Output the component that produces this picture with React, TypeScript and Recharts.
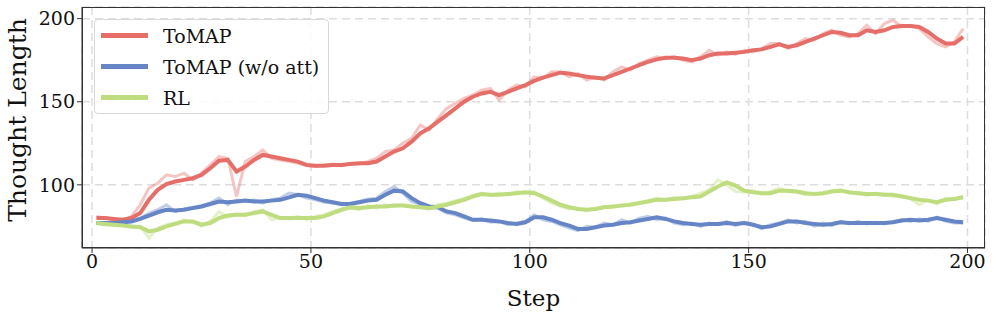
import React from "react";
import { LineChart, Line, XAxis, YAxis, CartesianGrid } from "recharts";

// steps 1, 3, 5 ... 199
const steps: number[] = Array.from({ length: 100 }, (_, i) => 2 * i + 1);

const tomapRaw: number[] = [
  81, 80, 79, 78.5, 81, 88, 98, 101, 106, 105, 107, 103, 107, 112, 117, 116, 93, 114, 117, 121,
  116, 115, 114, 113, 111.5, 111, 112, 112.5, 111.5, 113, 112.5, 114, 116, 120, 121, 125, 128, 136, 133, 140,
  146, 149, 152, 154, 157, 158, 151, 157, 160, 159, 165, 164, 168, 168, 165, 167, 163, 165, 163, 168,
  171, 169, 173, 175, 177, 176, 177, 175, 174, 177, 181, 178, 180, 178.5, 181, 180, 182, 185, 185, 182,
  185, 188, 187, 191, 193, 190, 189, 191, 196, 191, 197, 199, 195, 196, 194, 189, 185, 183, 186, 194,
];
const tomapSmooth: number[] = [
  80, 80, 79.5, 79, 80, 83, 91, 97, 100.5, 102, 103, 104, 106, 110, 114.5, 115, 108, 111, 115, 118,
  117, 116, 115, 114, 112, 111.5, 111.5, 112, 112, 112.5, 113, 113, 114, 117, 120, 122, 126, 131, 134, 138,
  142, 146, 150, 153, 155, 156, 154, 156, 158, 160, 162.5, 164.5, 166, 167.5, 167, 166, 165, 164.5, 164, 166,
  168, 170, 172, 174, 175.5, 176.5, 176.5, 176, 175, 176, 178, 179, 179, 179.5, 180, 181, 181.5, 183, 184.5, 183,
  184, 186, 188, 190, 192, 191.5, 190, 190, 193, 192, 193, 195, 195.5, 195.5, 195, 192, 188, 185, 185, 189,
];
const noAttRaw: number[] = [
  77, 76, 77.5, 77, 78.5, 80, 83, 85, 88, 84, 85.5, 86.5, 87.5, 89, 92, 88, 91, 90, 91, 89,
  91, 92, 95, 94, 92, 91, 89.5, 89, 88, 89, 90, 91.5, 92, 96, 99, 95, 90, 88, 86, 86,
  83, 82, 80, 78.5, 79.5, 77.5, 78, 76, 77, 78, 82, 79, 78, 76, 74, 72.5, 75, 74.5, 77, 76,
  79, 77, 80, 81, 79, 80, 77, 76, 77, 75, 77, 76, 78, 75.5, 77.5, 76, 73.5, 76, 77, 79,
  77, 78, 75, 77, 75.5, 78, 76.5, 78, 76.5, 77.5, 76.5, 78, 79, 78, 79.5, 78, 80.5, 78, 77, 77,
];
const noAttSmooth: number[] = [
  77, 77, 77, 77.5, 78, 79.5, 81.5, 83.5, 85, 84.5, 85, 86, 87, 88.5, 90, 89.5, 90, 90.5, 90, 90,
  90.5, 91, 92.5, 94, 93.5, 92, 90.5, 89.5, 88.5, 88.5, 89.5, 90.5, 91, 94, 96.5, 96, 92, 89, 87, 86.5,
  84, 83, 81, 79, 79, 78.5, 78, 77, 76.5, 77.5, 80.5, 80.5, 79, 77, 75.5, 73.5, 73.5, 74.5, 75.5, 76,
  77, 77.5, 78.5, 79.5, 80.5, 79.5, 78, 77, 76.5, 76, 76.5, 76.5, 77, 76.5, 77, 76, 74.5, 75, 76.5, 78,
  78, 77, 76.5, 76, 76.5, 77.5, 77, 77, 77, 77, 77, 77.5, 78.5, 79, 78.5, 79, 80, 79, 78, 77.5,
];
const rlRaw: number[] = [
  77, 76, 75.5, 76, 74.5, 75, 68, 74, 76, 77, 79, 77.5, 75, 78, 84, 80.5, 82.5, 81.5, 84, 85,
  79, 80.5, 79.5, 81, 79, 81, 82, 84, 85.5, 86, 85, 87.5, 86, 88, 87, 88, 86.5, 87, 85.5, 88,
  89, 90.5, 92, 93.5, 95, 93.5, 95, 94, 96, 95, 96, 92, 89, 87, 85.5, 86, 84.5, 86, 87, 86.5,
  88, 88.5, 89.5, 90.5, 92, 90.5, 92.5, 91.5, 93, 95, 97, 103, 100, 96, 95.5, 96.5, 94.5, 96, 98, 96,
  95.5, 94, 95, 94.5, 96.5, 97, 95, 95.5, 93.5, 95, 94.5, 93, 93.5, 91.5, 88, 91, 88.5, 92, 91, 93,
];
const rlSmooth: number[] = [
  77, 76.5, 76, 75.5, 75, 74.5, 72, 73, 75, 76.5, 78, 78, 76, 77, 80, 81.5, 82, 82, 83, 84,
  82, 80, 80, 80, 80, 80, 81, 83, 85, 86.5, 86, 86.5, 87, 87, 87.5, 87.5, 87, 86.5, 86, 87,
  88, 89.5, 91, 93, 94.5, 94, 94, 94.5, 95, 95.5, 95, 93, 90.5, 88, 86.5, 85.5, 85, 85.5, 86.5, 87,
  87.5, 88, 89, 90, 91, 91, 91.5, 92, 92.5, 93, 96, 99, 101.5, 99.5, 96.5, 95.5, 95, 95, 96.5, 96.5,
  96, 95, 94.5, 95, 96, 96.5, 95.5, 95, 94.5, 94.5, 94, 94, 93, 92, 91, 90.5, 89.5, 91, 91.5, 92.5,
];

const xTicks: number[] = [0, 50, 100, 150, 200];
const yTicks: number[] = [100, 150, 200];

const RED = "#e66e69";
const BLUE = "#6585c6";
const GREEN = "#bfdc7e";

const legendItems = [
  { name: "ToMAP", color: RED },
  { name: "ToMAP (w/o att)", color: BLUE },
  { name: "RL", color: GREEN },
];

const data = steps.map((s, i) => ({
  step: s,
  tomapRaw: tomapRaw[i],
  tomap: tomapSmooth[i],
  noAttRaw: noAttRaw[i],
  noAtt: noAttSmooth[i],
  rlRaw: rlRaw[i],
  rl: rlSmooth[i],
}));

const FONT = "'DejaVu Serif', 'Liberation Serif', serif";

const ChartLegend = () => (
  <div
    style={{
      position: "absolute",
      left: 94,
      top: 19,
      border: "1px solid #d8d8d8",
      borderRadius: 4,
      background: "rgba(255,255,255,0.85)",
      padding: "0px 9px 0px 6px",
      fontFamily: FONT,
      fontSize: 19,
      color: "#111",
    }}
  >
    {legendItems.map((item) => (
      <div key={item.name} style={{ display: "flex", alignItems: "center", height: 31 }}>
        <div style={{ width: 47, height: 5, background: item.color, marginRight: 15 }} />
        <span>{item.name}</span>
      </div>
    ))}
  </div>
);

// y axis title, baseline at x=26, centred on the text's middle
const YTitle = () => (
  <text
    x={26}
    y={120}
    transform="rotate(-90, 26, 120)"
    textAnchor="middle"
    fill="#111"
    fontSize={25}
    fontFamily={FONT}
  >
    Thought Length
  </text>
);

const App: React.FC = () => {
  return (
    <div style={{ position: "absolute", left: 0, top: 0, width: 996, height: 316, background: "#fff" }}>
      <LineChart width={996} height={316} data={data} margin={{ top: 7, right: 11, bottom: 0, left: 0 }}>
        <CartesianGrid stroke="#dddddd" strokeWidth={1.5} strokeDasharray="8 5" />
        <XAxis
          dataKey="step"
          type="number"
          domain={[-2.3, 204]}
          ticks={xTicks}
          height={68}
          stroke="#333"
          tickSize={5}
          tick={{ fill: "#111", fontSize: 19, fontFamily: FONT }}
          label={{ value: "Step", position: "insideBottom", offset: 10, fill: "#111", fontSize: 23, fontFamily: FONT }}
        />
        <YAxis
          type="number"
          domain={[62, 207]}
          ticks={yTicks}
          width={82}
          stroke="#333"
          tickSize={5}
          tick={{ fill: "#111", fontSize: 19, fontFamily: FONT }}
          label={<YTitle />}
        />
        <Line dataKey="tomapRaw" stroke={RED} strokeOpacity={0.4} strokeWidth={3} dot={false} isAnimationActive={false} />
        <Line dataKey="noAttRaw" stroke={BLUE} strokeOpacity={0.4} strokeWidth={3} dot={false} isAnimationActive={false} />
        <Line dataKey="rlRaw" stroke={GREEN} strokeOpacity={0.4} strokeWidth={3} dot={false} isAnimationActive={false} />
        <Line dataKey="tomap" stroke={RED} strokeWidth={4} dot={false} isAnimationActive={false} />
        <Line dataKey="noAtt" stroke={BLUE} strokeWidth={4} dot={false} isAnimationActive={false} />
        <Line dataKey="rl" stroke={GREEN} strokeWidth={4} dot={false} isAnimationActive={false} />
      </LineChart>
      <ChartLegend />
      <div
        style={{
          position: "absolute",
          left: 82,
          top: 7,
          width: 903,
          height: 241,
          boxSizing: "border-box",
          border: "1.5px solid #333",
          pointerEvents: "none",
        }}
      />
    </div>
  );
};

export default App;
